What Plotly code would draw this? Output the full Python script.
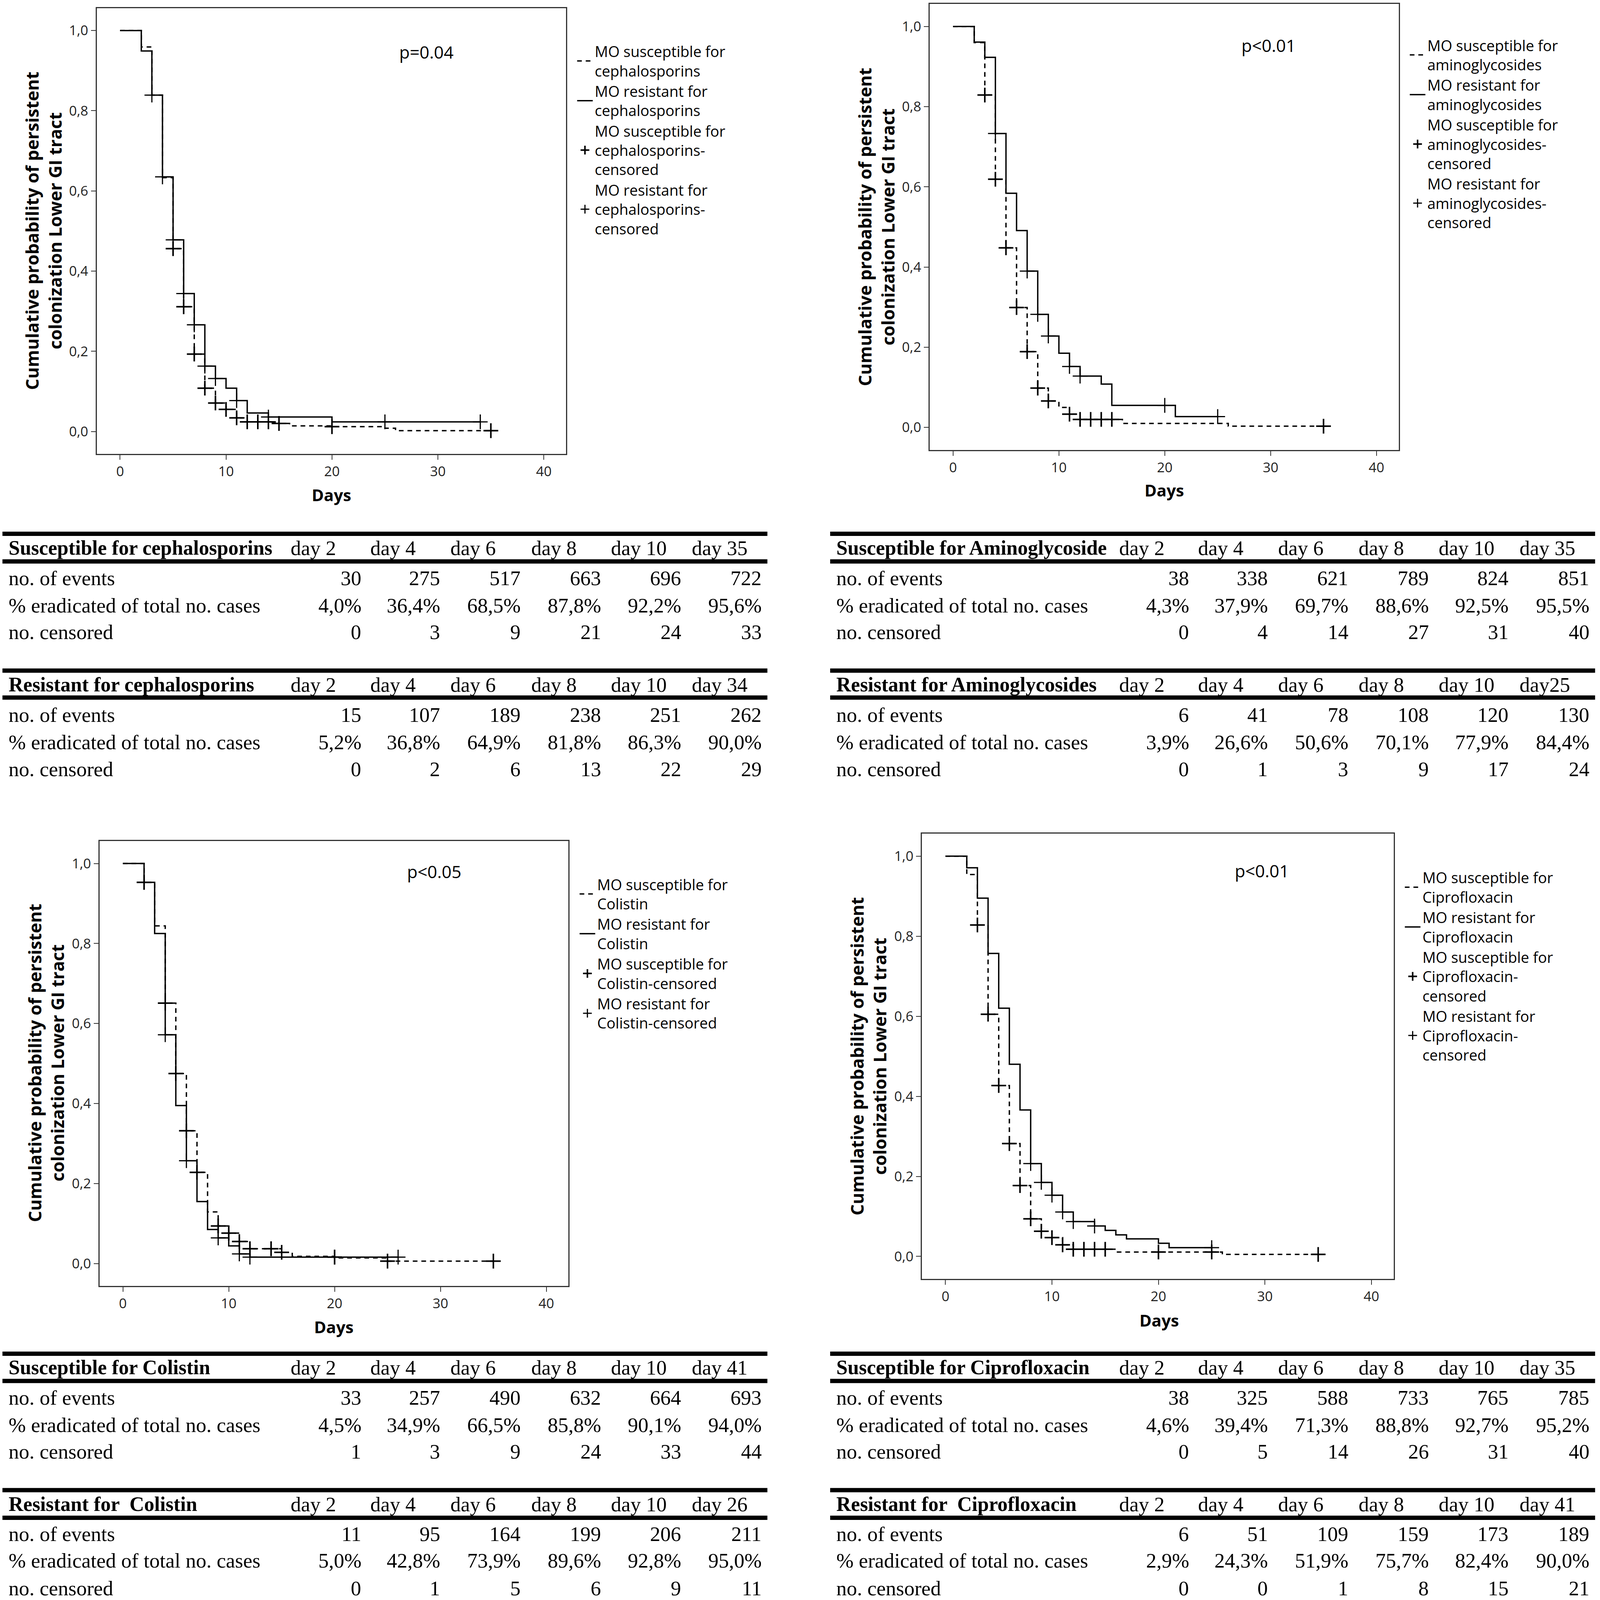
"""
Kaplan-Meier curves - persistent colonization of the lower GI tract
4 panels (cephalosporins / aminoglycosides / colistin / ciprofloxacin)
each with a small table of events / % eradicated / censored below
"""

import plotly.graph_objects as go

# reference picture size (positions below are measured in these pixels)
W, H = 4562, 4748
# figure fills the browser window; font sizes are scaled by this factor
S = 0.915


def px(x):
    return x / W


def py(y):
    return 1 - y / H


def fs(n):
    return round(n * S)


# ---------------- curve data (days, survival) ----------------
# cephalosporins
cef_sus_t = [0, 2, 3, 4, 5, 6, 7, 8, 9, 10, 11, 12, 15, 16, 20, 25, 26, 35]
cef_sus_s = [1.0, 0.959, 0.839, 0.633, 0.456, 0.311, 0.193, 0.108, 0.071, 0.055,
             0.034, 0.024, 0.020, 0.014, 0.012, 0.008, 0.002, 0.002]
cef_res_t = [0, 2, 3, 4, 5, 6, 7, 8, 9, 10, 11, 12, 14, 20, 34]
cef_res_s = [1.0, 0.949, 0.839, 0.635, 0.478, 0.344, 0.266, 0.163, 0.132, 0.108,
             0.077, 0.046, 0.036, 0.024, 0.024]
cef_sus_cx = [5, 6, 7, 8, 9, 10, 11, 12, 13, 14, 15, 20, 35]
cef_sus_cy = [0.456, 0.311, 0.193, 0.108, 0.071, 0.055, 0.034, 0.024, 0.024,
              0.024, 0.020, 0.012, 0.002]
cef_res_cx = [3, 4, 5, 6, 7, 8, 9, 11, 14, 25, 34]
cef_res_cy = [0.839, 0.635, 0.478, 0.344, 0.266, 0.163, 0.132, 0.077, 0.036,
              0.024, 0.024]

# aminoglycosides
ami_sus_t = [0, 2, 3, 4, 5, 6, 7, 8, 9, 10, 11, 12, 16, 26, 35]
ami_sus_s = [1.0, 0.960, 0.829, 0.619, 0.448, 0.299, 0.189, 0.098, 0.066, 0.050,
             0.033, 0.020, 0.010, 0.003, 0.003]
ami_res_t = [0, 2, 3, 4, 5, 6, 7, 8, 9, 10, 11, 12, 14, 15, 21, 25]
ami_res_s = [1.0, 0.961, 0.923, 0.733, 0.584, 0.491, 0.390, 0.282, 0.228, 0.185,
             0.152, 0.128, 0.108, 0.055, 0.027, 0.027]
ami_sus_cx = [3, 4, 5, 6, 7, 8, 9, 11, 12, 13, 14, 15, 35]
ami_sus_cy = [0.829, 0.619, 0.448, 0.299, 0.189, 0.098, 0.066, 0.033, 0.020,
              0.020, 0.020, 0.020, 0.003]
ami_res_cx = [4, 7, 8, 9, 11, 12, 20, 25]
ami_res_cy = [0.733, 0.390, 0.282, 0.228, 0.152, 0.128, 0.055, 0.027]

# colistin
col_sus_t = [0, 2, 3, 4, 5, 6, 7, 8, 9, 10, 11, 12, 15, 16, 20, 25, 35]
col_sus_s = [1.0, 0.953, 0.844, 0.651, 0.475, 0.332, 0.228, 0.129, 0.094, 0.076,
             0.055, 0.037, 0.028, 0.018, 0.014, 0.006, 0.006]
col_res_t = [0, 2, 3, 4, 5, 6, 7, 8, 9, 10, 11, 12, 26]
col_res_s = [1.0, 0.953, 0.825, 0.572, 0.395, 0.257, 0.155, 0.085, 0.064, 0.044,
             0.024, 0.016, 0.016]
col_sus_cx = [2, 4, 5, 6, 7, 9, 10, 11, 12, 14, 15, 20, 25, 35]
col_sus_cy = [0.953, 0.651, 0.475, 0.332, 0.228, 0.094, 0.076, 0.055, 0.037,
              0.037, 0.028, 0.016, 0.006, 0.006]
col_res_cx = [2, 4, 6, 9, 11, 12, 20, 26]
col_res_cy = [0.953, 0.572, 0.257, 0.064, 0.024, 0.016, 0.016, 0.016]

# ciprofloxacin
cip_sus_t = [0, 2, 3, 4, 5, 6, 7, 8, 9, 10, 11, 12, 16, 26, 35]
cip_sus_s = [1.0, 0.954, 0.828, 0.605, 0.427, 0.282, 0.177, 0.094, 0.063, 0.047,
             0.029, 0.018, 0.011, 0.005, 0.005]
cip_res_t = [0, 2, 3, 4, 5, 6, 7, 8, 9, 10, 11, 12, 14, 15, 16, 17, 20, 21, 25]
cip_res_s = [1.0, 0.971, 0.895, 0.757, 0.620, 0.480, 0.366, 0.232, 0.185, 0.153,
             0.111, 0.087, 0.076, 0.065, 0.054, 0.044, 0.033, 0.022, 0.022]
cip_sus_cx = [3, 4, 5, 6, 7, 8, 9, 10, 11, 12, 13, 14, 15, 20, 25, 35]
cip_sus_cy = [0.828, 0.605, 0.427, 0.282, 0.177, 0.094, 0.063, 0.047, 0.029,
              0.018, 0.018, 0.018, 0.018, 0.011, 0.011, 0.005]
cip_res_cx = [8, 9, 10, 11, 12, 14, 25]
cip_res_cy = [0.232, 0.185, 0.153, 0.111, 0.087, 0.076, 0.022]

p_values = ['p=0.04', 'p<0.01', 'p<0.05', 'p<0.01']
drug_names = ['cephalosporins', 'aminoglycosides', 'Colistin', 'Ciprofloxacin']

# ---------------- table data ----------------
row_labels = ['no. of events', '% eradicated of total no. cases', 'no. censored']

cef_sus_title = 'Susceptible for cephalosporins'
cef_sus_days = ['day 2', 'day 4', 'day 6', 'day 8', 'day 10', 'day 35']
cef_sus_events = [30, 275, 517, 663, 696, 722]
cef_sus_pct = ['4,0%', '36,4%', '68,5%', '87,8%', '92,2%', '95,6%']
cef_sus_cens = [0, 3, 9, 21, 24, 33]

cef_res_title = 'Resistant for cephalosporins'
cef_res_days = ['day 2', 'day 4', 'day 6', 'day 8', 'day 10', 'day 34']
cef_res_events = [15, 107, 189, 238, 251, 262]
cef_res_pct = ['5,2%', '36,8%', '64,9%', '81,8%', '86,3%', '90,0%']
cef_res_cens = [0, 2, 6, 13, 22, 29]

ami_sus_title = 'Susceptible for Aminoglycoside'
ami_sus_days = ['day 2', 'day 4', 'day 6', 'day 8', 'day 10', 'day 35']
ami_sus_events = [38, 338, 621, 789, 824, 851]
ami_sus_pct = ['4,3%', '37,9%', '69,7%', '88,6%', '92,5%', '95,5%']
ami_sus_cens = [0, 4, 14, 27, 31, 40]

ami_res_title = 'Resistant for Aminoglycosides'
ami_res_days = ['day 2', 'day 4', 'day 6', 'day 8', 'day 10', 'day25']
ami_res_events = [6, 41, 78, 108, 120, 130]
ami_res_pct = ['3,9%', '26,6%', '50,6%', '70,1%', '77,9%', '84,4%']
ami_res_cens = [0, 1, 3, 9, 17, 24]

col_sus_title = 'Susceptible for Colistin'
col_sus_days = ['day 2', 'day 4', 'day 6', 'day 8', 'day 10', 'day 41']
col_sus_events = [33, 257, 490, 632, 664, 693]
col_sus_pct = ['4,5%', '34,9%', '66,5%', '85,8%', '90,1%', '94,0%']
col_sus_cens = [1, 3, 9, 24, 33, 44]

col_res_title = 'Resistant for \u00a0Colistin'
col_res_days = ['day 2', 'day 4', 'day 6', 'day 8', 'day 10', 'day 26']
col_res_events = [11, 95, 164, 199, 206, 211]
col_res_pct = ['5,0%', '42,8%', '73,9%', '89,6%', '92,8%', '95,0%']
col_res_cens = [0, 1, 5, 6, 9, 11]

cip_sus_title = 'Susceptible for Ciprofloxacin'
cip_sus_days = ['day 2', 'day 4', 'day 6', 'day 8', 'day 10', 'day 35']
cip_sus_events = [38, 325, 588, 733, 765, 785]
cip_sus_pct = ['4,6%', '39,4%', '71,3%', '88,8%', '92,7%', '95,2%']
cip_sus_cens = [0, 5, 14, 26, 31, 40]

cip_res_title = 'Resistant for \u00a0Ciprofloxacin'
cip_res_days = ['day 2', 'day 4', 'day 6', 'day 8', 'day 10', 'day 41']
cip_res_events = [6, 51, 109, 159, 173, 189]
cip_res_pct = ['2,9%', '24,3%', '51,9%', '75,7%', '82,4%', '90,0%']
cip_res_cens = [0, 0, 1, 8, 15, 21]

# ---------------- panel layout (pixel boxes in the reference) ----------------
panels = [
    dict(curves=(cef_sus_t, cef_sus_s, cef_res_t, cef_res_s,
                 cef_sus_cx, cef_sus_cy, cef_res_cx, cef_res_cy),
         box=(276, 24, 1614, 1347), p_xy=(28.9, 0.947),
         ytitle=(124, 685), days=(945, 1468), legend=(1640, 116),
         censored_br=True),
    dict(curves=(ami_sus_t, ami_sus_s, ami_res_t, ami_res_s,
                 ami_sus_cx, ami_sus_cy, ami_res_cx, ami_res_cy),
         box=(2651, 12, 3988, 1335), p_xy=(29.8, 0.953),
         ytitle=(2498, 673), days=(3320, 1454), legend=(4014, 98),
         censored_br=True),
    dict(curves=(col_sus_t, col_sus_s, col_res_t, col_res_s,
                 col_sus_cx, col_sus_cy, col_res_cx, col_res_cy),
         box=(284, 2496, 1621, 3816), p_xy=(29.4, 0.98),
         ytitle=(131, 3154), days=(952, 3937), legend=(1647, 2588),
         censored_br=False),
    dict(curves=(cip_sus_t, cip_sus_s, cip_res_t, cip_res_s,
                 cip_sus_cx, cip_sus_cy, cip_res_cx, cip_res_cy),
         box=(2629, 2474, 3974, 3795), p_xy=(29.7, 0.964),
         ytitle=(2476, 3135), days=(3305, 3918), legend=(4000, 2568),
         censored_br=True),
]

PLOT_FONT = 'Open Sans, Noto Sans, sans-serif'
TABLE_FONT = 'Liberation Serif, DejaVu Serif, serif'

fig = go.Figure()
annotations = []
shapes = []

for i, (p, drug, pv) in enumerate(zip(panels, drug_names, p_values)):
    n = '' if i == 0 else str(i + 1)
    xa, ya = 'x' + n, 'y' + n
    lg = 'legend' + n
    sus_t, sus_s, res_t, res_s, scx, scy, rcx, rcy = p['curves']
    sep = '<br>' if p['censored_br'] else ''

    fig.add_trace(go.Scatter(
        x=sus_t, y=sus_s, mode='lines', line_shape='hv',
        line=dict(color='black', width=3.5, dash='12px,10px'),
        name=f'MO susceptible for<br>{drug}', xaxis=xa, yaxis=ya, legend=lg))
    fig.add_trace(go.Scatter(
        x=res_t, y=res_s, mode='lines', line_shape='hv',
        line=dict(color='black', width=3.5),
        name=f'MO resistant for<br>{drug}', xaxis=xa, yaxis=ya, legend=lg))
    fig.add_trace(go.Scatter(
        x=scx, y=scy, mode='markers',
        marker=dict(symbol='cross-thin', size=27,
                    line=dict(color='black', width=4)),
        name=f'MO susceptible for<br>{drug}-{sep}censored',
        xaxis=xa, yaxis=ya, legend=lg))
    fig.add_trace(go.Scatter(
        x=rcx, y=rcy, mode='markers',
        marker=dict(symbol='cross-thin', size=27,
                    line=dict(color='black', width=3)),
        name=f'MO resistant for<br>{drug}-{sep}censored',
        xaxis=xa, yaxis=ya, legend=lg))

    x0, y0, x1, y1 = p['box']
    axis_common = dict(showline=True, linecolor='#333333', linewidth=3,
                       mirror=True, ticks='outside', ticklen=fs(13),
                       tickwidth=2, tickcolor='#333333', showgrid=False,
                       zeroline=False,
                       tickfont=dict(family=PLOT_FONT, size=fs(38),
                                     color='#222222'))
    fig.update_layout({
        'xaxis' + n: dict(domain=[px(x0), px(x1)], range=[-2.2, 42.1],
                          tickvals=[0, 10, 20, 30, 40], anchor=ya,
                          **axis_common),
        'yaxis' + n: dict(domain=[py(y1), py(y0)], range=[-0.056, 1.056],
                          tickvals=[0, 0.2, 0.4, 0.6, 0.8, 1.0],
                          tickformat='.1f', anchor=xa, **axis_common),
        lg: dict(x=px(p['legend'][0]), y=py(p['legend'][1]),
                 xanchor='left', yanchor='top', bgcolor='rgba(0,0,0,0)',
                 font=dict(family=PLOT_FONT, size=fs(42), color='black'),
                 tracegroupgap=0, itemwidth=40),
    })

    annotations.append(dict(
        x=p['p_xy'][0], y=p['p_xy'][1], xref=xa, yref=ya, text=pv,
        xanchor='center', yanchor='middle', showarrow=False,
        font=dict(family=PLOT_FONT, size=fs(48), color='black')))
    annotations.append(dict(
        x=px(p['ytitle'][0]), y=py(p['ytitle'][1]), xref='paper', yref='paper',
        text='<b>Cumulative probability of persistent<br>'
             'colonization Lower GI tract</b>',
        textangle=-90, xanchor='center', yanchor='middle', showarrow=False,
        font=dict(family=PLOT_FONT, size=fs(49), color='black')))
    annotations.append(dict(
        x=px(p['days'][0]), y=py(p['days'][1]), xref='paper', yref='paper',
        text='<b>Days</b>', xanchor='center', yanchor='middle',
        showarrow=False,
        font=dict(family=PLOT_FONT, size=fs(46), color='black')))


# ---------------- tables ----------------
def add_table(left, rule_x, heads_x, vals_x, ys, title, days, events, pct, cens):
    r1, yh, r2, yr = ys
    for yy in (r1, r2):
        shapes.append(dict(type='line', xref='paper', yref='paper',
                           x0=px(rule_x[0]), x1=px(rule_x[1]),
                           y0=py(yy), y1=py(yy),
                           line=dict(color='black', width=fs(12))))
    tf = dict(family=TABLE_FONT, size=fs(58), color='black')
    tb = dict(family=TABLE_FONT, size=fs(57), color='black')
    annotations.append(dict(x=px(left), y=py(yh), xref='paper', yref='paper',
                            text=f'<b>{title}</b>', xanchor='left',
                            yanchor='middle', showarrow=False, font=tb))
    for d, hx in zip(days, heads_x):
        annotations.append(dict(x=px(hx), y=py(yh), xref='paper',
                                yref='paper', text=d, xanchor='left',
                                yanchor='middle', showarrow=False, font=tf))
    for label, row, ry in zip(row_labels, (events, pct, cens), yr):
        annotations.append(dict(x=px(left), y=py(ry), xref='paper',
                                yref='paper', text=label, xanchor='left',
                                yanchor='middle', showarrow=False, font=tf))
        for v, vx in zip(row, vals_x):
            annotations.append(dict(x=px(vx), y=py(ry), xref='paper',
                                    yref='paper', text=str(v),
                                    xanchor='right', yanchor='middle',
                                    showarrow=False, font=tf))


L_HEADS = [826, 1054, 1282, 1512, 1740, 1970]
L_VALS = [1032, 1258, 1487, 1716, 1945, 2174]
R_HEADS = [3189, 3414, 3642, 3872, 4100, 4330]
R_VALS = [3392, 3618, 3847, 4076, 4304, 4534]

TOP_A = (1584, 1626, 1666, (1716, 1797, 1876))
TOP_B = (1990, 2032, 2070, (2121, 2202, 2282))
BOT_A = (4017, 4058, 4098, (4147, 4229, 4308))
BOT_B = (4422, 4464, 4504, (4552, 4631, 4713))

add_table(22, (7, 2188), L_HEADS, L_VALS, TOP_A, cef_sus_title, cef_sus_days,
          cef_sus_events, cef_sus_pct, cef_sus_cens)
add_table(22, (7, 2188), L_HEADS, L_VALS, TOP_B, cef_res_title, cef_res_days,
          cef_res_events, cef_res_pct, cef_res_cens)
add_table(2382, (2367, 4548), R_HEADS, R_VALS, TOP_A, ami_sus_title,
          ami_sus_days, ami_sus_events, ami_sus_pct, ami_sus_cens)
add_table(2382, (2367, 4548), R_HEADS, R_VALS, TOP_B, ami_res_title,
          ami_res_days, ami_res_events, ami_res_pct, ami_res_cens)
add_table(22, (7, 2188), L_HEADS, L_VALS, BOT_A, col_sus_title, col_sus_days,
          col_sus_events, col_sus_pct, col_sus_cens)
add_table(22, (7, 2188), L_HEADS, L_VALS, BOT_B, col_res_title, col_res_days,
          col_res_events, col_res_pct, col_res_cens)
add_table(2382, (2367, 4548), R_HEADS, R_VALS, BOT_A, cip_sus_title,
          cip_sus_days, cip_sus_events, cip_sus_pct, cip_sus_cens)
add_table(2382, (2367, 4548), R_HEADS, R_VALS, BOT_B, cip_res_title,
          cip_res_days, cip_res_events, cip_res_pct, cip_res_cens)

# no fixed width/height: the figure is sized to the browser window
fig.update_layout(
    autosize=True,
    margin=dict(l=0, r=0, t=0, b=0),
    paper_bgcolor='white', plot_bgcolor='white',
    separators=',.',
    annotations=annotations, shapes=shapes,
)

fig.write_html(
    'out.html',
    default_width='100vw', default_height='100vh',
    config={'responsive': True, 'displayModeBar': False},
    post_script=("document.body.style.margin='0';"
                 "document.body.style.overflow='hidden';"
                 "Plotly.Plots.resize(document.getElementById('{plot_id}'));"),
)
